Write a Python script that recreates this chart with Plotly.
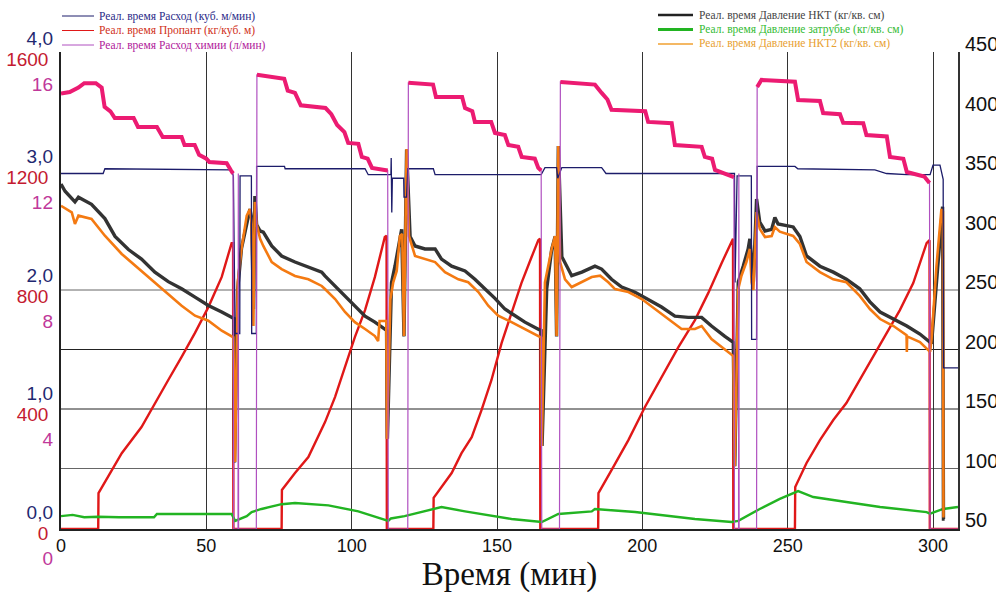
import plotly.graph_objects as go

# ---------------- data (time in minutes) ----------------
# Chemical flow, l/min (magenta left axis 0-16)
chem_t = [0, 3, 6, 8, 12, 14, 15, 17, 18.5, 25, 26.5, 33, 35, 41.5, 42.5, 46, 47.5, 50, 51, 57, 58.5, 59.2,
          59.4, 60.9, 61.0, 61.1, 67.2,
          67.4, 76.8, 78, 80.5, 82.5, 91, 93, 95, 97.5, 98.8, 102.3, 103.5, 105.5, 107, 112.4,
          112.6, 119.3,
          119.5, 128, 129, 138, 139, 141.5, 142.4, 148, 149.3, 152.7, 153.9, 157.3, 158.5, 163, 164.2, 165.2,
          165.4, 171.5,
          171.8, 183.7, 186, 188, 189.4, 201, 202, 210.1, 211.2, 220.4, 221.5, 224, 225, 230, 231.5,
          231.7, 233.1, 233.2, 233.3, 239.3,
          239.5, 241, 252.5, 253.6, 261.1, 262.2, 268, 269.1, 276, 277.1, 284.1, 285.2, 289.8, 291, 297, 298.8,
          299.0, 308.6]
chem_v = [14.7, 14.75, 14.9, 15.05, 15.05, 14.9, 14.25, 14.1, 13.87, 13.87, 13.57, 13.57, 13.23, 13.23, 12.96, 12.96, 12.63, 12.5, 12.39, 12.35, 12.1, 12.0,
          0, 0, 12.0, 0, 0,
          15.33, 15.2, 14.8, 14.72, 14.3, 14.21, 14.0, 13.64, 13.4, 13.03, 13.0, 12.56, 12.5, 12.19, 12.1,
          0, 0,
          15.06, 15.0, 14.58, 14.58, 14.21, 14.1, 13.74, 13.74, 13.37, 13.3, 12.96, 12.9, 12.56, 12.5, 12.19, 12.1,
          0, 0,
          15.09, 15.0, 14.72, 14.5, 14.15, 14.1, 13.74, 13.7, 12.96, 12.9, 12.56, 12.5, 12.12, 11.95, 11.88,
          0, 0, 12.0, 0, 0,
          14.92, 15.16, 15.1, 14.48, 14.45, 14.04, 14.0, 13.71, 13.7, 13.3, 13.25, 12.56, 12.5, 12.05, 11.9, 11.68,
          0, 0]

# Flow rate, m3/min (blue left axis 0-4)
flow_t = [0, 14.5, 15.1, 58.5, 59.3, 59.9, 61.5, 61.6, 65.5, 65.6, 67.2, 67.3, 76.9, 77.1, 104.6, 105.7,
          113.5, 113.6, 113.8, 114.0, 117.9, 118.0, 118.9, 119.3, 128.1, 128.7, 165.2, 166.5, 170.5, 170.9,
          172.3, 186.0, 187.5, 231.7, 231.9, 232.6, 237.5, 237.6, 239.3, 239.5, 252.5, 253.5, 280, 284, 291,
          299.0, 300.0, 302.4, 303.5, 303.6, 308.6]
flow_v = [3.00, 3.00, 3.04, 3.03, 2.98, 1.65, 1.65, 2.98, 2.98, 1.65, 1.65, 3.06, 3.06, 3.04, 3.04, 2.99,
          2.99, 3.13, 2.67, 2.96, 2.96, 2.80, 2.80, 3.04, 3.04, 2.99, 2.99, 3.05, 3.05, 2.96,
          3.05, 3.05, 3.00, 3.00, 2.08, 2.98, 2.98, 1.60, 1.60, 3.06, 3.06, 3.04, 3.03, 3.00, 2.99,
          2.99, 3.07, 3.07, 2.95, 1.36, 1.36]

# Proppant concentration, kg/m3 (red left axis 0-1600)
prop_t = [0, 12.8, 12.9, 20.9, 27.7, 32.3, 36.9, 41.5, 46.1, 50.7, 55.3, 58.7, 59.2, 59.3,
          75.9, 76.0, 80.5, 85.1, 89.7, 90.8, 94.3, 97.7, 101.1, 104.6, 108.0, 111.4, 112.0, 112.1,
          128.1, 128.2, 130.9, 134.4, 137.8, 141.3, 144.7, 148.1, 151.6, 155.0, 158.4, 161.9, 164.2, 164.8, 164.9,
          184.8, 184.9, 189.4, 195.2, 200.9, 206.6, 212.4, 218.1, 222.7, 227.3, 230.7, 231.2, 231.3,
          252.5, 252.6, 256.5, 261.1, 265.7, 270.2, 274.8, 279.4, 284.1, 288.6, 293.2, 297.8, 298.8, 298.9, 308.6]
prop_v = [0, 0, 121, 256, 344, 425, 503, 581, 662, 749, 851, 965, 965, 0,
          0, 132, 189, 243, 334, 360, 446, 547, 648, 739, 851, 986, 990, 0,
          0, 105, 142, 189, 256, 310, 402, 503, 628, 729, 830, 918, 975, 980, 0,
          0, 121, 199, 300, 412, 513, 614, 705, 797, 898, 975, 980, 0,
          0, 142, 223, 300, 368, 425, 503, 581, 662, 739, 830, 965, 975, 0, 0]

# Tubing pressure, kg/cm2 (right axis)
p1_t = [0, 1.4, 4.8, 6.0, 10.5, 15.1, 18.6, 23.2, 27.7, 32.3, 36.9, 41.5, 46.1, 50.7, 55.3, 58.7, 59.5, 59.7,
        60.8, 62.1, 63.9, 65.0, 65.6, 66.2, 66.7, 67.3, 68.5, 69.6, 72.5, 75.9, 80.5, 85.1, 89.7,
        90.8, 94.3, 97.7, 101.1, 104.6, 108.0, 111.4, 112.0, 112.3, 113.7, 114.9, 117.2, 118.0, 118.9, 120.1,
        121.8, 125.2, 128.7, 130.9, 134.4, 139.0, 142.4, 145.8, 149.3, 152.7, 156.2, 159.6, 164.2, 165.2, 165.5,
        167.1, 168.8, 170.0, 170.5, 171.1, 172.3, 175.7, 179.2, 182.6,
        183.7, 186.0, 189.4, 192.9, 197.5, 202.0, 206.6, 211.2, 215.8, 220.4, 223.8, 228.4, 231.3, 231.8,
        233.0, 234.7, 236.4, 237.0, 238.2, 239.3, 240.4, 242.2, 244.5, 245.6, 246.7, 251.9,
        254.2, 256.5, 261.1, 265.7, 270.2, 274.8, 278.3, 281.8, 286.4, 291.0, 295.5, 298.4, 299.5, 303.3, 303.6, 304.0]
p1_v = [339, 333, 324, 328, 322, 310, 295, 284, 276, 265, 257, 251, 244, 237, 231.5, 227, 226, 105,
        251, 285, 307, 318, 310, 234, 329, 305, 299.6, 298.7, 287, 278.6, 273.5, 269, 265,
        261.8, 253, 245, 236.6, 228, 223, 217, 216, 125, 256, 270, 301, 211, 368, 295,
        287, 284.5, 284.5, 276, 270, 266, 259, 251, 243, 234, 228, 223, 217, 216, 119,
        251, 284, 295, 211, 371, 278, 262, 265, 269,
        270, 267.6, 259, 252.5, 248, 242, 235.7, 228, 227, 227, 219.7, 211, 206, 102,
        256.7, 270, 284.5, 293, 256.7, 326.5, 307, 299.6, 301, 311, 305.5, 303,
        295, 278.6, 270, 265, 259, 251, 240, 231.5, 225.6, 219.7, 213, 207, 205, 320, 57.6, 57.6]

# Tubing pressure 2, kg/cm2 (right axis)
p2_t = [0, 3.7, 4.8, 6.0, 10.5, 15.1, 20.9, 27.7, 32.3, 36.9, 41.5, 46.1, 50.7, 55.3, 59.3, 59.9,
        60.8, 62.1, 63.9, 65.0, 65.6, 66.2, 66.7, 67.3, 68.5, 69.6, 72.5, 75.9, 80.5, 85.1, 89.7,
        90.8, 94.3, 97.7, 101.1, 104.6, 108.0, 109.1, 109.6, 111.9, 112.2, 113.3, 114.3, 115.5, 116.6, 117.4,
        118.0, 118.9, 119.7, 121.8, 125.2, 128.7, 132.1, 136.7, 140.1, 143.6, 147.0, 150.4, 155.0, 159.6, 164.2,
        165.2, 165.4, 166.5, 168.8, 170.0, 170.5, 171.1, 171.7, 173.4, 175.7, 179.2, 182.6, 185.5,
        188.3, 190.6, 195.2, 199.8, 204.3, 208.9, 213.5, 218.1, 220.4, 223.8, 228.4, 231.3, 231.8,
        233.0, 234.1, 235.8, 237.0, 237.6, 238.2, 239.3, 240.4, 242.2, 244.5, 245.6, 247.3,
        251.9, 254.2, 256.5, 261.1, 265.7, 270.2, 274.8, 278.3, 281.8, 286.4, 290.9, 291.0, 291.1,
        295.5, 298.4, 299.0, 299.5, 301.2, 302.9, 303.4, 303.6, 304.0]
p2_v = [320.8, 315.3, 305.5, 312.5, 309.7, 295.6, 280.3, 266.2, 256.5, 246.6, 236.8, 228.4, 224.2, 215.8, 210.2, 105.5,
        256.5, 284.5, 312.5, 318, 305.5, 219.7, 324, 305.5, 293, 287, 273.5, 267.6, 261.8, 259, 253.4,
        250.8, 242.4, 231.5, 223, 217.2, 211.3, 207, 224, 224, 124.8, 242, 256.5, 266, 295.4, 297,
        211.3, 368.5, 295.4, 278.6, 276, 273.5, 265, 259, 256.5, 248.3, 236.8, 228.4, 223, 217.2, 211.3,
        210, 119, 256.5, 284.5, 295.4, 211.3, 371, 273.5, 259, 252.5, 256.5, 260.9, 262,
        256.5, 250.8, 248.3, 242.4, 234, 225.6, 217.2, 217.2, 219.7, 208.8, 200.4, 194.5, 102,
        250.8, 262, 273.5, 284.5, 256.5, 250, 315.5, 301.4, 294.5, 295.4, 302.9, 299,
        295.4, 288.7, 273.5, 265, 259, 256.5, 245, 234, 225.6, 219.7, 212, 198, 211,
        206.3, 198.7, 198, 208.8, 270.2, 318, 316, 60, 60]

# Annulus pressure, kg/cm2 (right axis)
pa_t = [0, 4, 8, 12.8, 20, 32, 33, 58.7, 59.9, 63.9, 65.6, 69, 75.9, 80.5, 92, 102.3, 112.6, 113.5,
        118.2, 125.2, 130.9, 139.0, 148.1, 155.0, 165.4, 171.1, 182.6, 183.7, 197.5, 218.1, 230.7, 233.0,
        240.4, 247.3, 253.6, 258.8, 270.2, 281.8, 297.8, 299.0, 303.5, 308.6]
pa_v = [60, 61, 59, 59.5, 59, 59, 61.8, 61.8, 56, 60, 63.4, 66, 70, 71, 69, 64, 56, 58,
        60, 64, 67.6, 64, 60, 57.6, 55, 61.8, 64, 66, 63.4, 57.6, 55, 56,
        66, 74.4, 81, 76, 71.8, 67.6, 63.4, 62, 66, 67.6]

# Axis tick labels
x_ticks = [0, 50, 100, 150, 200, 250, 300]
flow_ticks = [0, 1, 2, 3, 4]
flow_labels = ["0,0", "1,0", "2,0", "3,0", "4,0"]
prop_ticks = [0, 400, 800, 1200, 1600]
chem_ticks = [0, 4, 8, 12, 16]
pres_ticks = [50, 100, 150, 200, 250, 300, 350, 400, 450]
grid_pres = [100, 150, 200, 250]

names = {
    "flow": "Реал. время Расход (куб. м/мин)",
    "prop": "Реал. время Пропант (кг/куб. м)",
    "chem": "Реал. время Расход химии (л/мин)",
    "p1": "Реал. время Давление НКТ (кг/кв. см)",
    "pa": "Реал. время Давление затрубье (кг/кв. см)",
    "p2": "Реал. время Давление НКТ2 (кг/кв. см)",
}

C_FLOW = "#1c1c6a"
C_PROP = "#e01818"
C_CHEM = "#ec1b72"
C_CHEM_THIN = "#b050c0"
C_P1 = "#333333"
C_PA = "#22b422"
C_P2 = "#f47a12"

# while pumping the chemical trace is drawn as the thick pink band, transitions as thin violet lines
chem_pumping = [v if v > 0 else None for v in chem_v]

fig = go.Figure()
fig.add_trace(go.Scatter(x=pa_t, y=pa_v, yaxis="y2", mode="lines", line=dict(color=C_PA, width=2.4), name=names["pa"]))
fig.add_trace(go.Scatter(x=p1_t, y=p1_v, yaxis="y2", mode="lines", line=dict(color=C_P1, width=3.4), name=names["p1"]))
fig.add_trace(go.Scatter(x=p2_t, y=p2_v, yaxis="y2", mode="lines", line=dict(color=C_P2, width=2.6), name=names["p2"]))
fig.add_trace(go.Scatter(x=flow_t, y=flow_v, yaxis="y3", mode="lines", line=dict(color=C_FLOW, width=1.3), name=names["flow"]))
fig.add_trace(go.Scatter(x=prop_t, y=prop_v, yaxis="y", mode="lines", line=dict(color=C_PROP, width=2.4), name=names["prop"]))
fig.add_trace(go.Scatter(x=chem_t, y=chem_v, yaxis="y4", mode="lines", line=dict(color=C_CHEM_THIN, width=1.2), name=names["chem"]))
fig.add_trace(go.Scatter(x=chem_t, y=chem_pumping, yaxis="y4", mode="lines", connectgaps=False,
                         line=dict(color=C_CHEM, width=4), name=names["chem"]))

W, H = 996, 601
PLOT_L, PLOT_R, PLOT_T, PLOT_B = 61, 958, 52, 529   # plot area in window pixels
L, R, T, B = PLOT_L, W - PLOT_R, PLOT_T, H - PLOT_B
PW, PH = PLOT_R - PLOT_L, PLOT_B - PLOT_T

def px_x(px):
    return (px - PLOT_L) / PW

def px_y(py):
    return (PLOT_B - py) / PH

shapes = []
annotations = []
for v, col in zip(grid_pres, ["#666666", "#222222", "#222222", "#666666"]):
    shapes.append(dict(type="line", xref="paper", x0=0, x1=1, yref="y2", y0=v, y1=v,
                       line=dict(color=col, width=1), layer="below"))

# manual two-column legend
leg_left = [("flow", C_FLOW, "#2a2a88", 1), ("prop", C_PROP, "#d03020", 1), ("chem", C_CHEM_THIN, "#b0209a", 1)]
leg_right = [("p1", "#222222", "#444444", 2.5), ("pa", C_PA, "#33bb33", 3), ("p2", "#f0a030", "#e8a030", 1.5)]
for i, (k, lc, tc, lw) in enumerate(leg_left):
    py = 16 + i * 14.5
    shapes.append(dict(type="line", xref="paper", yref="paper", x0=px_x(62), x1=px_x(94),
                       y0=px_y(py), y1=px_y(py), line=dict(color=lc, width=lw)))
    annotations.append(dict(xref="paper", yref="paper", x=px_x(97), y=px_y(py), text=names[k],
                            showarrow=False, xanchor="left", yanchor="middle",
                            font=dict(family="Liberation Serif", size=11.5, color=tc)))
for i, (k, lc, tc, lw) in enumerate(leg_right):
    py = 15 + i * 14.5
    shapes.append(dict(type="line", xref="paper", yref="paper", x0=px_x(658), x1=px_x(693),
                       y0=px_y(py), y1=px_y(py), line=dict(color=lc, width=lw)))
    annotations.append(dict(xref="paper", yref="paper", x=px_x(697), y=px_y(py), text=names[k],
                            showarrow=False, xanchor="left", yanchor="middle",
                            font=dict(family="Liberation Serif", size=11.5, color=tc)))

FONT = "Liberation Sans"
frac_top = 477 / 474

fig.update_layout(
    width=W, height=H,
    margin=dict(l=L, r=R, t=T, b=B),
    paper_bgcolor="white", plot_bgcolor="white",
    showlegend=False,
    shapes=shapes, annotations=annotations,
    xaxis=dict(range=[0, 308.6], tickvals=x_ticks, showgrid=True, gridcolor="#333333", gridwidth=1,
               showline=True, linecolor="#222222", linewidth=1.5, zeroline=False, ticks="",
               automargin=False,
               tickfont=dict(family=FONT, size=18, color="#111111"),
               title=dict(text="Время (мин)", font=dict(family="Liberation Serif", size=33, color="#111111"),
                          standoff=6)),
    yaxis=dict(range=[0, 1600 * frac_top], tickvals=prop_ticks, showgrid=False, zeroline=False,
               showline=True, linecolor="#222222", linewidth=1.5, ticks="", side="left", automargin=False,
               tickfont=dict(family=FONT, size=19, color="#c41a30"), ticklabelstandoff=7,
               ticklabelshift=4),
    yaxis3=dict(range=[0, 4 * frac_top], tickvals=flow_ticks, ticktext=flow_labels, overlaying="y",
                side="left", anchor="x", showgrid=False, zeroline=False, showline=False, ticks="",
                automargin=False,
                tickfont=dict(family=FONT, size=19, color="#1f2870"), ticklabelstandoff=7,
                ticklabelshift=-17),
    yaxis4=dict(range=[0, 16 * frac_top], tickvals=chem_ticks, overlaying="y",
                side="left", anchor="x", showgrid=False, zeroline=False, showline=False, ticks="",
                automargin=False,
                tickfont=dict(family=FONT, size=19, color="#c0389a"), ticklabelstandoff=7,
                ticklabelshift=29),
    yaxis2=dict(range=[50 - 1 / 1.19, 50 + 476 / 1.19], tickvals=pres_ticks, overlaying="y", side="right",
                anchor="x", showgrid=False, zeroline=False, showline=True, linecolor="#333333",
                linewidth=2, ticks="", automargin=False,
                tickfont=dict(family=FONT, size=20, color="#111111"),
                ticklabelstandoff=1, ticklabelshift=-8),
)

# remove the browser's default 8 px body margin so the 996x601 figure fills the window exactly
fig.write_html("out.html", config={"displayModeBar": False},
               post_script="document.body.style.margin='0';document.body.style.overflow='hidden';")
